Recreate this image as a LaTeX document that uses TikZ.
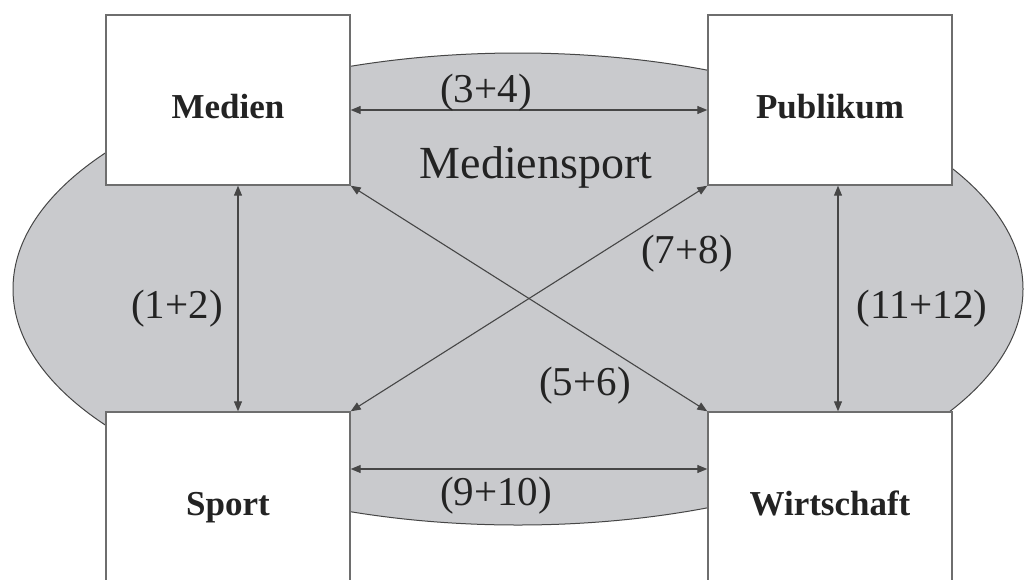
\documentclass[tikz,border=0pt]{standalone}
\usepackage{fontspec}
\setmainfont{Liberation Serif}
\usetikzlibrary{arrows.meta}
\definecolor{ovalgray}{RGB}{201,202,205}
\definecolor{edgegray}{RGB}{70,70,70}
\definecolor{boxedge}{RGB}{110,110,110}
\definecolor{inkdark}{RGB}{35,35,35}
\begin{document}
\begin{tikzpicture}[x=1pt,y=-1pt,
  actor/.style={draw=boxedge,line width=1.4pt,fill=white,minimum width=244pt,minimum height=170pt,
    inner sep=0pt,text height=36pt,text depth=0pt,font=\bfseries\fontsize{35}{40}\selectfont,text=inkdark},
  rel/.style={draw=edgegray,line width=1.1pt,{Triangle[length=10pt,width=8pt]}-{Triangle[length=10pt,width=8pt]}},
  num/.style={anchor=base,font=\fontsize{41}{46}\selectfont,text=inkdark,inner sep=0pt}]
\useasboundingbox (0,0) rectangle (1036,579);
\clip (0,0) rectangle (1036,579);
\fill[white] (0,0) rectangle (1036,579);
\draw[fill=ovalgray,draw=edgegray,line width=1pt] (518,289) ellipse [x radius=505, y radius=236];
\node[actor] (medien) at (228,100) {Medien};
\node[actor] (publikum) at (830,100) {Publikum};
\node[actor] (sport) at (228,497) {Sport};
\node[actor] (wirtschaft) at (830,497) {Wirtschaft};
\draw[rel] ([xshift=10pt]medien.south) -- ([xshift=10pt]sport.north);
\draw[rel] ([xshift=8pt]publikum.south) -- ([xshift=8pt]wirtschaft.north);
\draw[rel] ([yshift=-10pt]medien.east) -- ([yshift=-10pt]publikum.west);
\draw[rel] ([yshift=28pt]sport.east) -- ([yshift=28pt]wirtschaft.west);
\draw[rel] (medien.south east) -- (wirtschaft.north west);
\draw[rel] (publikum.south west) -- (sport.north east);
\node[num] (l34) at (486,102) {(3+4)};
\node[num,font=\fontsize{46}{52}\selectfont] (lms) at (536,178) {Mediensport};
\node[num] (l12) at (177,318) {(1+2)};
\node[num] (l1112) at (922,318) {(11+12)};
\node[num] (l78) at (687,263) {(7+8)};
\node[num] (l56) at (585,395) {(5+6)};
\node[num] (l910) at (496,505) {(9+10)};
\end{tikzpicture}
\end{document}
